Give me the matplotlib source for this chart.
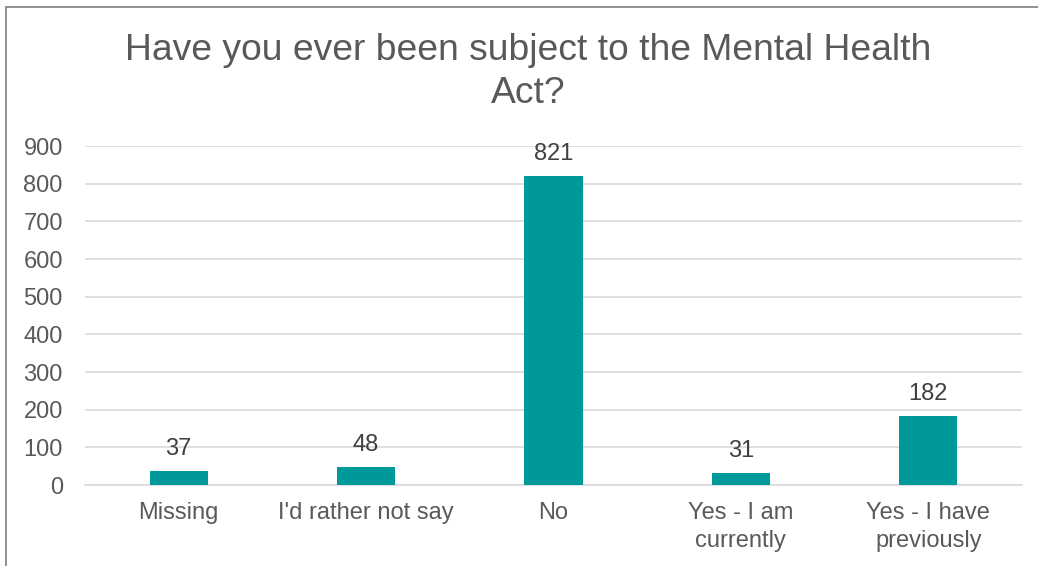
import matplotlib.pyplot as plt
from matplotlib.patches import Rectangle

categories = ['Missing', "I'd rather not say", 'No', 'Yes - I am\ncurrently', 'Yes - I have\npreviously']
counts = [37, 48, 821, 31, 182]
yticks = [0, 100, 200, 300, 400, 500, 600, 700, 800, 900]

plt.rcParams['font.family'] = ['Liberation Sans', 'DejaVu Sans']
grey = '#595959'

fig = plt.figure(figsize=(10.38, 5.66), dpi=100)
ax = fig.add_axes([0.0819, 0.1431, 0.9027, 0.5989])

x = list(range(len(categories)))
bars = ax.bar(x, counts, width=0.31, color='#009999', zorder=3)
for b, v in zip(bars, counts):
    ax.annotate(str(v), (b.get_x() + b.get_width() / 2, v), xytext=(0, 8),
                textcoords='offset points', ha='center', va='bottom',
                fontsize=17, color='#404040')

ax.set_xlim(-0.5, len(categories) - 0.5)
ax.set_ylim(0, 900)
ax.set_yticks(yticks)
ax.set_xticks(x)
ax.set_xticklabels(categories, linespacing=1.4)
ax.grid(axis='y', color='#d9d9d9', linewidth=1.2, zorder=0)
for s in ['top', 'right', 'left']:
    ax.spines[s].set_visible(False)
ax.spines['bottom'].set_color('#d9d9d9')
ax.spines['bottom'].set_linewidth(1.2)
ax.tick_params(axis='both', length=0, labelsize=17, labelcolor=grey)
ax.tick_params(axis='y', pad=16)
ax.tick_params(axis='x', pad=12)

fig.text(0.509, 0.873, 'Have you ever been subject to the Mental Health\nAct?',
         ha='center', va='center', fontsize=26.8, color=grey, linespacing=1.3)

fig.patches.append(Rectangle((6 / 1038, -0.1), 1.2, 1.1 - 7 / 566, transform=fig.transFigure,
                             fill=False, edgecolor='#7f7f7f', linewidth=1.2))

fig.savefig('out.png', dpi=100)
